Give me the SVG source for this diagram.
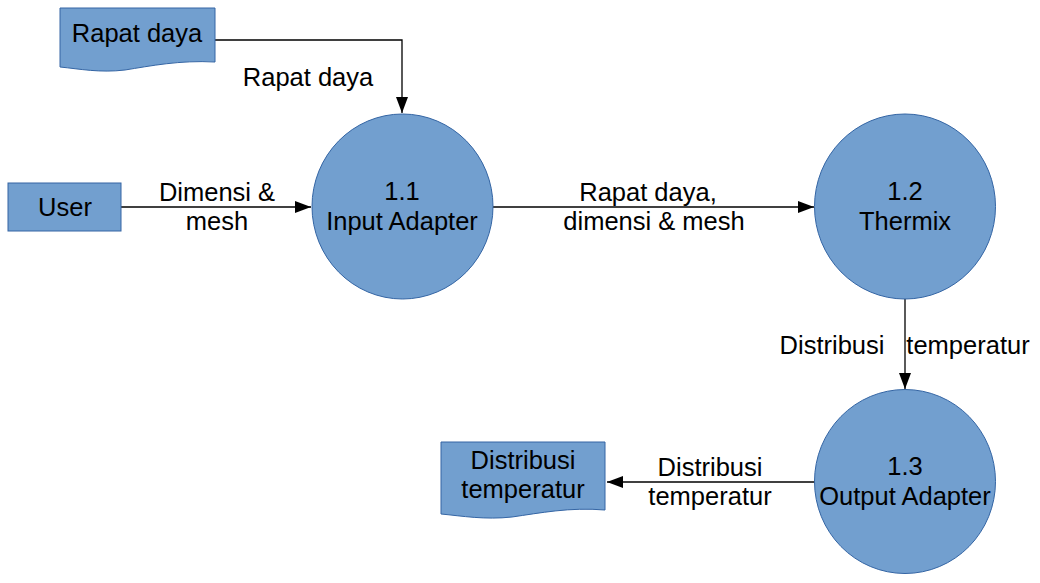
<svg xmlns="http://www.w3.org/2000/svg" width="1040" height="583" viewBox="0 0 1040 583">
<style>
.n{fill:#729fcf;stroke:#3465a4;stroke-width:1}
.t{font-family:"Liberation Sans",Arial,sans-serif;font-size:25.5px;fill:#000;text-anchor:middle}
.c{fill:none;stroke:#000;stroke-width:1.3}
</style>
<defs>
<marker id="ah" markerWidth="16" markerHeight="12" refX="16" refY="6" orient="auto" markerUnits="userSpaceOnUse">
<path d="M0,0 L16,6 L0,12 Z" fill="#000"/>
</marker>
</defs>
<rect width="1040" height="583" fill="#fff"/>
<g id="connectors">
<path class="c" d="M215,40 H402 V113" marker-end="url(#ah)"/>
<path class="c" d="M121,207 H311" marker-end="url(#ah)"/>
<path class="c" d="M493,207 H814" marker-end="url(#ah)"/>
<path class="c" d="M905,299 V389" marker-end="url(#ah)"/>
<path class="c" d="M815,482 H607" marker-end="url(#ah)"/>
<text class="t" x="308" y="86">Rapat daya</text>
<text class="t" x="217" y="201">Dimensi &amp;</text>
<text class="t" x="217" y="230">mesh</text>
<text class="t" x="648" y="201">Rapat daya,</text>
<text class="t" x="654" y="230">dimensi &amp; mesh</text>
<text class="t" x="832" y="354">Distribusi</text>
<text class="t" x="968" y="354">temperatur</text>
<text class="t" x="710" y="476">Distribusi</text>
<text class="t" x="710" y="505">temperatur</text>
</g>
<g id="doc-rapat">
<path class="n" d="M60,8 H215 V62 C180,60 150,66 125,70 C100,73 80,69 60,67 Z"/>
<text class="t" x="137" y="42">Rapat daya</text>
</g>
<g id="user">
<rect class="n" x="8" y="183" width="113" height="48"/>
<text class="t" x="65" y="216">User</text>
</g>
<g id="p11">
<ellipse class="n" cx="402.5" cy="206.5" rx="90.5" ry="92.5"/>
<text class="t" x="402" y="200">1.1</text>
<text class="t" x="402" y="230">Input Adapter</text>
</g>
<g id="p12">
<ellipse class="n" cx="905" cy="206.5" rx="90.5" ry="92.5"/>
<text class="t" x="905" y="200">1.2</text>
<text class="t" x="905" y="230">Thermix</text>
</g>
<g id="p13">
<ellipse class="n" cx="905" cy="481.5" rx="90.5" ry="92"/>
<text class="t" x="905" y="475">1.3</text>
<text class="t" x="905" y="505">Output Adapter</text>
</g>
<g id="doc-dist">
<path class="n" d="M441,442 H605 V510 C570,507 540,513 512,517 C485,520 462,516 441,514 Z"/>
<text class="t" x="523" y="469">Distribusi</text>
<text class="t" x="523" y="498">temperatur</text>
</g>
</svg>
